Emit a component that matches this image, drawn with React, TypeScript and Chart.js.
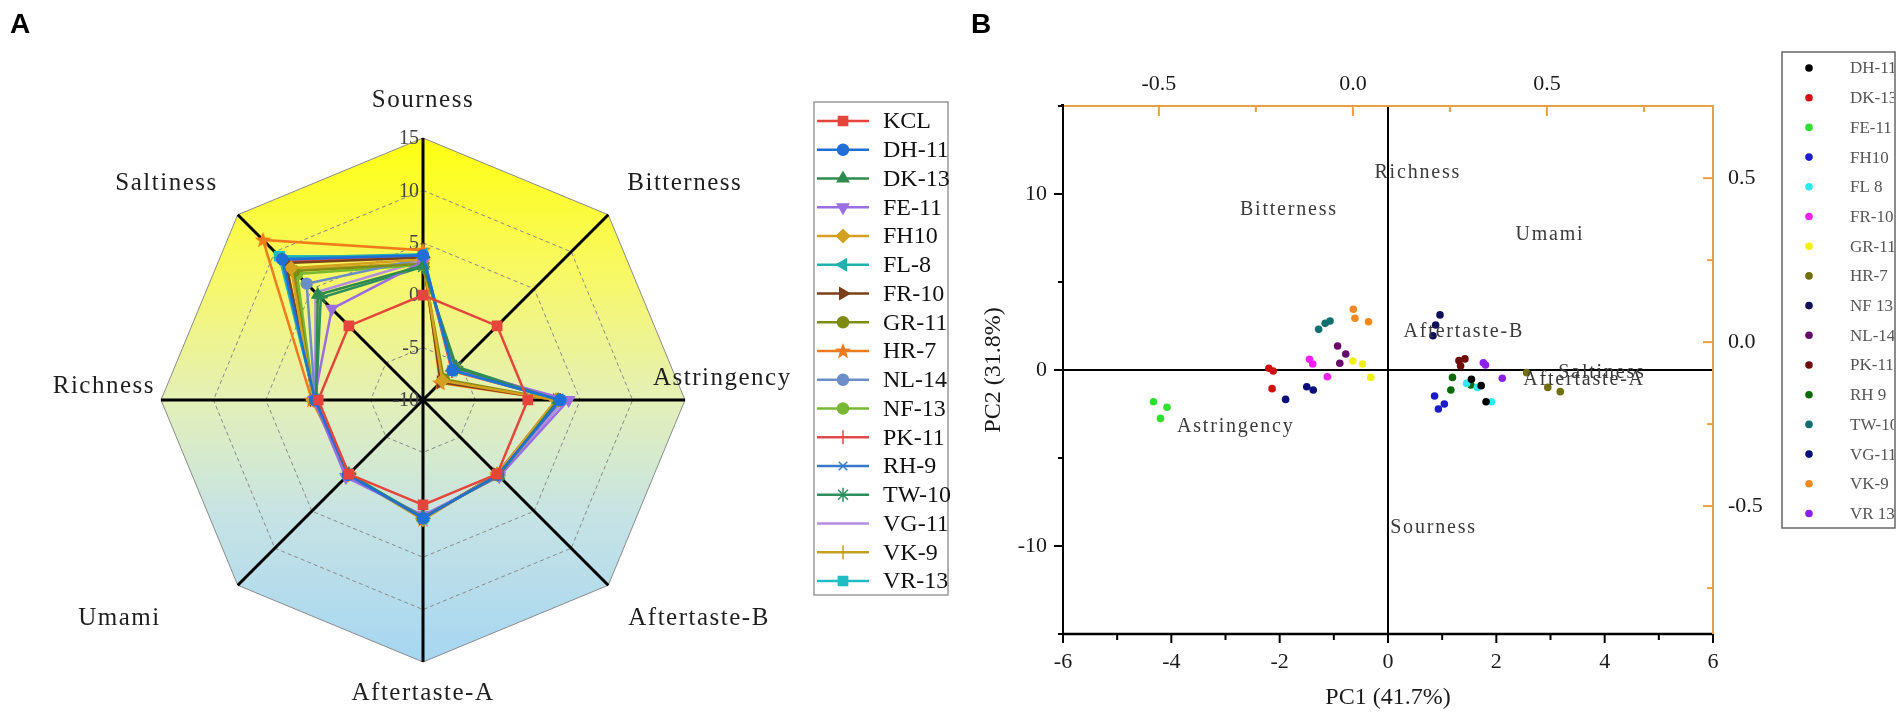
import React, { useEffect, useRef } from 'react';
import { Chart, registerables } from 'chart.js';
import { drawPoint } from 'chart.js/helpers';

Chart.register(...registerables);

const SERIF = '"Liberation Serif", "DejaVu Serif", serif';
const SANS = '"Liberation Sans", Arial, sans-serif';

// ---------------- Panel A : radar ----------------
const tasteAttributes = ['Sourness', 'Bitterness', 'Astringency', 'Aftertaste-B', 'Aftertaste-A', 'Umami', 'Richness', 'Saltiness'];
const radarTickValues = [-10, -5, 0, 5, 10, 15];
const radarSeriesNames = ['KCL', 'DH-11', 'DK-13', 'FE-11', 'FH10', 'FL-8', 'FR-10', 'GR-11', 'HR-7', 'NL-14', 'NF-13', 'PK-11', 'RH-9', 'TW-10', 'VG-11', 'VK-9', 'VR-13'];

const radarKCL = [0, 0, 0, 0, 0, 0, 0, 0];
const radarDH11 = [3.8, -6.0, 3.1, 0.1, 1.3, 0.1, 0.3, 9.0];
const radarDK13 = [2.8, -5.6, 2.9, 0.2, 1.2, 0.0, 0.2, 4.2];
const radarFE11 = [3.2, -5.8, 3.9, 0.3, 1.0, 0.4, 0.4, 2.3];
const radarFH10 = [3.4, -7.4, 2.7, 0.0, 1.4, 0.1, 0.5, 7.8];
const radarFL8 = [3.9, -6.0, 3.0, 0.1, 1.3, 0.1, 0.3, 9.2];
const radarFR10 = [3.6, -7.6, 2.8, 0.0, 1.3, 0.0, 0.4, 8.5];
const radarGR11 = [3.0, -7.2, 2.9, 0.1, 1.2, 0.1, 0.5, 7.4];
const radarHR7 = [4.3, -7.7, 2.7, 0.0, 1.4, 0.0, 0.6, 11.6];
const radarNL14 = [3.5, -6.0, 3.0, 0.1, 1.3, 0.1, 0.3, 5.7];
const radarNF13 = [2.9, -5.7, 3.0, 0.2, 1.2, 0.1, 0.4, 7.0];
const radarPK11 = [3.7, -6.1, 3.1, 0.1, 1.3, 0.1, 0.3, 8.6];
const radarRH9 = [3.8, -6.0, 3.2, 0.1, 1.3, 0.1, 0.3, 8.8];
const radarTW10 = [2.7, -5.5, 3.0, 0.2, 1.2, 0.1, 0.2, 3.8];
const radarVG11 = [3.3, -5.9, 3.5, 0.3, 1.1, 0.3, 0.3, 4.5];
const radarVK9 = [3.1, -7.5, 2.8, 0.0, 1.4, 0.0, 0.5, 7.6];
const radarVR13 = [3.7, -6.0, 3.0, 0.1, 1.3, 0.1, 0.3, 9.4];

const radarSeriesValues = [radarKCL, radarDH11, radarDK13, radarFE11, radarFH10, radarFL8, radarFR10, radarGR11, radarHR7, radarNL14, radarNF13, radarPK11, radarRH9, radarTW10, radarVG11, radarVK9, radarVR13];

const radarColors = ['#e6453c', '#1f6fd6', '#2e8b4e', '#9a6ee0', '#d4a020', '#22b2ae', '#7b3f1a', '#7f8c12', '#f07b1c', '#6c8ec8', '#78b832', '#e04a4a', '#3a78c8', '#2e8f5e', '#b48ee0', '#c2a024', '#1fbcc4'];
const radarStyles = ['rect', 'circle', 'triangle', 'triangle', 'rectRot', 'triangle', 'triangle', 'circle', 'STAR', 'circle', 'circle', 'cross', 'crossRot', 'star', 'circle', 'cross', 'rect'];
const radarRotations = [0, 0, 0, 180, 0, 270, 90, 0, 0, 0, 0, 0, 0, 0, 0, 0, 0];
const radarRadii = [6.5, 5.5, 6.5, 6.5, 6.5, 6.5, 6.5, 5.5, 6, 5.5, 5.5, 7, 6, 7, 0, 7, 6.5];

// ---------------- Panel B : PCA biplot ----------------
const pcaSampleNames = ['DH-11', 'DK-13', 'FE-11', 'FH10', 'FL 8', 'FR-10', 'GR-11', 'HR-7', 'NF 13', 'NL-14', 'PK-11', 'RH 9', 'TW-10', 'VG-11', 'VK-9', 'VR 13'];
const pcaDH11 = [[1.54, -0.53], [1.72, -0.89], [1.81, -1.80]];
const pcaDK13 = [[-2.20, 0.10], [-2.12, -0.06], [-2.14, -1.06]];
const pcaFE11 = [[-4.33, -1.80], [-4.08, -2.12], [-4.20, -2.75]];
const pcaFH10 = [[0.86, -1.48], [1.04, -1.93], [0.93, -2.22]];
const pcaFL8 = [[1.45, -0.76], [1.65, -0.99], [1.91, -1.80]];
const pcaFR10 = [[-1.45, 0.61], [-1.39, 0.34], [-1.12, -0.38]];
const pcaGR11 = [[-0.65, 0.51], [-0.47, 0.34], [-0.32, -0.42]];
const pcaHR7 = [[2.56, -0.15], [2.95, -0.99], [3.18, -1.23]];
const pcaNF13 = [[0.96, 3.13], [0.88, 2.56], [0.83, 1.95]];
const pcaNL14 = [[-0.93, 1.36], [-0.78, 0.91], [-0.89, 0.38]];
const pcaPK11 = [[1.31, 0.53], [1.42, 0.63], [1.34, 0.23]];
const pcaRH9 = [[1.19, -0.42], [1.16, -1.14], [1.53, -0.85]];
const pcaTW10 = [[-1.28, 2.31], [-1.16, 2.65], [-1.07, 2.78]];
const pcaVG11 = [[-1.89, -1.67], [-1.50, -0.95], [-1.38, -1.14]];
const pcaVK9 = [[-0.64, 3.45], [-0.61, 2.94], [-0.36, 2.74]];
const pcaVR13 = [[1.76, 0.41], [1.80, 0.28], [2.11, -0.47]];
const pcaSampleScores = [pcaDH11, pcaDK13, pcaFE11, pcaFH10, pcaFL8, pcaFR10, pcaGR11, pcaHR7, pcaNF13, pcaNL14, pcaPK11, pcaRH9, pcaTW10, pcaVG11, pcaVK9, pcaVR13];
const pcaColors = ['#000000', '#d01010', '#30e030', '#1c1cc8', '#30e8f0', '#f020f0', '#f0f010', '#707010', '#10105a', '#680a68', '#6e0a0a', '#0a6a0a', '#107070', '#0c0c78', '#f08a20', '#8a20ea'];

const loadingNames = ['Bitterness', 'Richness', 'Umami', 'Aftertaste-B', 'Saltiness', 'Aftertaste-A', 'Astringency', 'Sourness'];
const loadingPC1 = [-1.83, 0.55, 2.99, 1.40, 3.95, 3.62, -2.81, 0.84];
const loadingPC2 = [9.1, 11.2, 7.7, 2.16, -0.17, -0.55, -3.24, -8.98];

const pc1Labels = [-6, -4, -2, 0, 2, 4, 6];
const pc2Labels = [-10, 0, 10];
const loadingAxisLabels = [-0.5, 0, 0.5];

// ---------------- helpers ----------------
function makeStar(color: string) {
  const c = document.createElement('canvas');
  c.width = 18; c.height = 18;
  const g = c.getContext('2d')!;
  g.fillStyle = color;
  g.beginPath();
  for (let i = 0; i < 10; i++) {
    const r = i % 2 === 0 ? 8.5 : 3.6;
    const a = -Math.PI / 2 + (i * Math.PI) / 5;
    const x = 9 + r * Math.cos(a), y = 9.5 + r * Math.sin(a);
    if (i === 0) g.moveTo(x, y); else g.lineTo(x, y);
  }
  g.closePath();
  g.fill();
  return c;
}

// label placement around the radar relative to the outer vertex: [dx, dy, align]
const radarLabelPlacement: [number, number, CanvasTextAlign][] = [
  [0, -38, 'center'], [19, -31, 'left'], [-32, -22, 'left'], [20, 33, 'left'],
  [0, 31, 'center'], [-77, 33, 'right'], [-6, -14, 'right'], [-20, -31, 'right'],
];

function radarPlugin(styles: any[]) {
  return {
    id: 'radarDecor',
    beforeDraw(chart: any) {
      const r = chart.scales.r;
      const ctx = chart.ctx;
      const outer = r.getDistanceFromCenterForValue(15);
      ctx.save();
      ctx.beginPath();
      for (let i = 0; i < tasteAttributes.length; i++) {
        const p = r.getPointPosition(i, outer);
        if (i === 0) ctx.moveTo(p.x, p.y); else ctx.lineTo(p.x, p.y);
      }
      ctx.closePath();
      const g = ctx.createLinearGradient(0, r.yCenter - outer, 0, r.yCenter + outer);
      g.addColorStop(0, '#ffff10');
      g.addColorStop(0.25, '#f8f862');
      g.addColorStop(0.5, '#e4f0b8');
      g.addColorStop(0.72, '#c6e3e4');
      g.addColorStop(1, '#a6d6f2');
      ctx.fillStyle = g;
      ctx.fill();
      ctx.restore();
    },
    beforeDatasetsDraw(chart: any) {
      const r = chart.scales.r;
      const ctx = chart.ctx;
      ctx.save();
      ctx.font = `20px ${SERIF}`;
      ctx.fillStyle = '#444';
      ctx.textAlign = 'right';
      ctx.textBaseline = 'middle';
      radarTickValues.forEach((v) => {
        const d = r.getDistanceFromCenterForValue(v);
        ctx.fillText(String(v), r.xCenter - 4, r.yCenter - d + 1);
      });
      ctx.restore();
    },
    afterDraw(chart: any) {
      const r = chart.scales.r;
      const ctx = chart.ctx;
      const outer = r.getDistanceFromCenterForValue(15);
      ctx.save();
      ctx.font = `25px ${SERIF}`;
      ctx.fillStyle = '#1e1e1e';
      ctx.textBaseline = 'middle';
      (ctx as any).letterSpacing = '1.5px';
      tasteAttributes.forEach((name, i) => {
        const p = r.getPointPosition(i, outer);
        const [dx, dy, al] = radarLabelPlacement[i];
        ctx.textAlign = al;
        ctx.fillText(name, p.x + dx, p.y + dy);
      });
      (ctx as any).letterSpacing = '0px';

      ctx.font = `bold 28px ${SANS}`;
      ctx.fillStyle = '#000';
      ctx.textAlign = 'center';
      ctx.fillText('A', 20, 25);

      const bx = 814, by = 102, bw = 134, bh = 493;
      ctx.fillStyle = '#fff';
      ctx.fillRect(bx, by, bw, bh);
      ctx.strokeStyle = '#999';
      ctx.lineWidth = 1.5;
      ctx.strokeRect(bx, by, bw, bh);
      ctx.font = `24px ${SERIF}`;
      ctx.textAlign = 'left';
      radarSeriesNames.forEach((name, i) => {
        const y = 121 + i * 28.75;
        const col = radarColors[i];
        ctx.strokeStyle = col;
        ctx.lineWidth = 2.5;
        ctx.beginPath();
        ctx.moveTo(817, y);
        ctx.lineTo(869, y);
        ctx.stroke();
        if (radarRadii[i] > 0) {
          ctx.fillStyle = col;
          ctx.strokeStyle = col;
          ctx.lineWidth = 1.5;
          drawPoint(ctx, { pointStyle: styles[i], rotation: radarRotations[i], radius: radarRadii[i], borderWidth: 1.5 } as any, 843, y);
        }
        ctx.fillStyle = '#111';
        ctx.fillText(name, 883, y + 1);
      });
      ctx.restore();
    },
  };
}

const pcaPlugin = {
  id: 'pcaDecor',
  beforeDatasetsDraw(chart: any) {
    const { ctx, chartArea: a } = chart;
    const { x, y, x2, y2 } = chart.scales;
    const line = (x1: number, y1: number, xx: number, yy: number) => {
      ctx.beginPath(); ctx.moveTo(x1, y1); ctx.lineTo(xx, yy); ctx.stroke();
    };
    ctx.save();
    ctx.strokeStyle = '#000';
    ctx.lineWidth = 2;
    const x0 = x.getPixelForValue(0), y0 = y.getPixelForValue(0);
    line(x0, a.top, x0, a.bottom);
    line(a.left, y0, a.right, y0);
    y.ticks.forEach((t: any) => {
      const py = y.getPixelForValue(t.value);
      const len = t.label ? 9 : 5;
      line(a.left - len, py, a.left, py);
    });
    x.ticks.forEach((t: any) => {
      const px = x.getPixelForValue(t.value);
      const len = t.label ? 9 : 6;
      line(px, a.bottom, px, a.bottom + len);
    });
    line(a.left, a.top, a.left, a.bottom);
    ctx.lineWidth = 2.5;
    line(a.left - 1, a.bottom, a.right + 1, a.bottom);
    ctx.strokeStyle = '#e8a040';
    ctx.lineWidth = 2;
    x2.ticks.forEach((t: any) => {
      const px = x2.getPixelForValue(t.value);
      const len = t.label ? 10 : 6;
      line(px, a.top, px, a.top + len);
    });
    y2.ticks.forEach((t: any) => {
      const py = y2.getPixelForValue(t.value);
      const len = t.label ? 10 : 6;
      line(a.right - len, py, a.right, py);
    });
    line(a.left, a.top, a.right + 1, a.top);
    line(a.right, a.top, a.right, a.bottom);
    ctx.fillStyle = '#000';
    ctx.fillRect(a.left - 2, a.top - 2, 3, 3);
    ctx.restore();
  },
  afterDatasetsDraw(chart: any) {
    const { ctx } = chart;
    const { x, y } = chart.scales;
    ctx.save();
    ctx.font = `20px ${SERIF}`;
    (ctx as any).letterSpacing = '1.8px';
    ctx.fillStyle = '#3a3a3a';
    ctx.textAlign = 'center';
    ctx.textBaseline = 'middle';
    loadingNames.forEach((n, i) => {
      ctx.fillText(n, x.getPixelForValue(loadingPC1[i]), y.getPixelForValue(loadingPC2[i]));
    });
    (ctx as any).letterSpacing = '0px';
    ctx.restore();
  },
  afterDraw(chart: any) {
    const { ctx } = chart;
    ctx.save();
    ctx.font = `bold 28px ${SANS}`;
    ctx.fillStyle = '#000';
    ctx.textAlign = 'center';
    ctx.textBaseline = 'middle';
    ctx.fillText('B', 21, 25);

    const bx = 822, by = 52, bw = 113, bh = 476;
    ctx.strokeStyle = '#666';
    ctx.lineWidth = 1.5;
    ctx.strokeRect(bx, by, bw, bh);
    ctx.save();
    ctx.beginPath();
    ctx.rect(bx, by, bw - 1, bh);
    ctx.clip();
    ctx.font = `17px ${SERIF}`;
    ctx.textAlign = 'left';
    pcaSampleNames.forEach((n, i) => {
      const yy = 68 + i * 29.7;
      ctx.fillStyle = pcaColors[i];
      ctx.beginPath();
      ctx.arc(849, yy, 3.8, 0, Math.PI * 2);
      ctx.fill();
      ctx.fillStyle = '#555';
      ctx.fillText(n, 890, yy + 1);
    });
    ctx.restore();
    ctx.restore();
  },
};

const tickFont = { family: SERIF, size: 22 };
const near = (v: number, list: number[]) => list.some((l) => Math.abs(l - v) < 1e-6);

export default function App() {
  const radarRef = useRef<HTMLCanvasElement>(null);
  const pcaRef = useRef<HTMLCanvasElement>(null);

  useEffect(() => {
    const star = makeStar(radarColors[8]);
    const styles = radarStyles.map((s) => (s === 'STAR' ? star : s));

    const radar = new Chart(radarRef.current!, {
      type: 'radar',
      data: {
        labels: tasteAttributes,
        datasets: radarSeriesNames.map((name, i) => ({
          label: name,
          data: radarSeriesValues[i],
          borderColor: radarColors[i],
          backgroundColor: radarColors[i],
          pointBackgroundColor: radarColors[i],
          pointBorderColor: radarColors[i],
          pointStyle: styles[i] as any,
          pointRotation: radarRotations[i],
          pointRadius: radarRadii[i] > 0 ? radarRadii[i] : 0,
          pointBorderWidth: 1.5,
          borderWidth: 2.5,
          fill: false,
          tension: 0,
        })),
      },
      options: {
        responsive: false,
        animation: false,
        events: [],
        layout: { padding: { left: 161, top: 138, right: 275, bottom: 56 } },
        plugins: { legend: { display: false }, tooltip: { enabled: false } },
        scales: {
          r: {
            min: -10,
            max: 15,
            ticks: { display: false, stepSize: 5 },
            grid: { color: '#8a8a8a', lineWidth: 1 },
            border: { dash: (c: any) => (c.tick && c.tick.value === 15 ? [] : [4, 3]) } as any,
            angleLines: { color: '#000', lineWidth: 3 },
            pointLabels: { display: false },
          },
        },
      } as any,
      plugins: [radarPlugin(styles)],
    });

    const pca = new Chart(pcaRef.current!, {
      type: 'scatter',
      data: {
        datasets: pcaSampleNames.map((n, i) => ({
          label: n,
          data: pcaSampleScores[i].map(([px, py]) => ({ x: px, y: py })),
          backgroundColor: pcaColors[i],
          borderColor: pcaColors[i],
          pointRadius: 3.8,
          pointBorderWidth: 0,
          xAxisID: 'x',
          yAxisID: 'y',
        })),
      },
      options: {
        responsive: false,
        animation: false,
        events: [],
        layout: { padding: 0 },
        plugins: { legend: { display: false }, tooltip: { enabled: false } },
        scales: {
          x: {
            type: 'linear', position: 'bottom', min: -6, max: 6,
            grid: { display: false, drawTicks: false }, border: { display: false },
            ticks: { stepSize: 1, autoSkip: false, maxRotation: 0, padding: 15, font: tickFont, color: '#1a1a1a',
              callback: (v: any) => (near(v, pc1Labels) ? String(v) : '') },
            title: { display: true, text: 'PC1 (41.7%)', font: { family: SERIF, size: 24 }, color: '#1a1a1a', padding: { top: 0, bottom: 6 } },
            afterFit: (s: any) => { s.height = 84; },
          },
          x2: {
            type: 'linear', position: 'top', min: -0.747, max: 0.928,
            grid: { display: false, drawTicks: false }, border: { display: false },
            ticks: { stepSize: 0.25, includeBounds: false, autoSkip: false, maxRotation: 0, padding: 9, font: tickFont, color: '#1a1a1a',
              callback: (v: any) => (near(v, loadingAxisLabels) ? Number(v).toFixed(1) : '') },
            afterFit: (s: any) => { s.height = 106; },
          },
          y: {
            type: 'linear', position: 'left', min: -15, max: 15,
            grid: { display: false, drawTicks: false }, border: { display: false },
            ticks: { stepSize: 5, autoSkip: false, padding: 16, font: tickFont, color: '#1a1a1a',
              callback: (v: any) => (near(v, pc2Labels) ? String(v) : '') },
            title: { display: true, text: 'PC2 (31.8%)', font: { family: SERIF, size: 24 }, color: '#1a1a1a', padding: { top: 19, bottom: 0 } },
            afterFit: (s: any) => { s.width = 103; },
          },
          y2: {
            type: 'linear', position: 'right', min: -0.89, max: 0.72,
            grid: { display: false, drawTicks: false }, border: { display: false },
            ticks: { stepSize: 0.25, includeBounds: false, autoSkip: false, padding: 15, font: tickFont, color: '#1a1a1a',
              callback: (v: any) => (near(v, loadingAxisLabels) ? Number(v).toFixed(1) : '') },
            afterFit: (s: any) => { s.width = 188; },
          },
        },
      } as any,
      plugins: [pcaPlugin],
    });

    return () => {
      radar.destroy();
      pca.destroy();
    };
  }, []);

  return (
    <div style={{ position: 'fixed', left: 0, top: 0, width: 1901, height: 718, background: '#fff', overflow: 'hidden' }}>
      <canvas ref={radarRef} width={960} height={718} style={{ position: 'absolute', left: 0, top: 0, width: 960, height: 718 }} />
      <canvas ref={pcaRef} width={941} height={718} style={{ position: 'absolute', left: 960, top: 0, width: 941, height: 718 }} />
    </div>
  );
}
